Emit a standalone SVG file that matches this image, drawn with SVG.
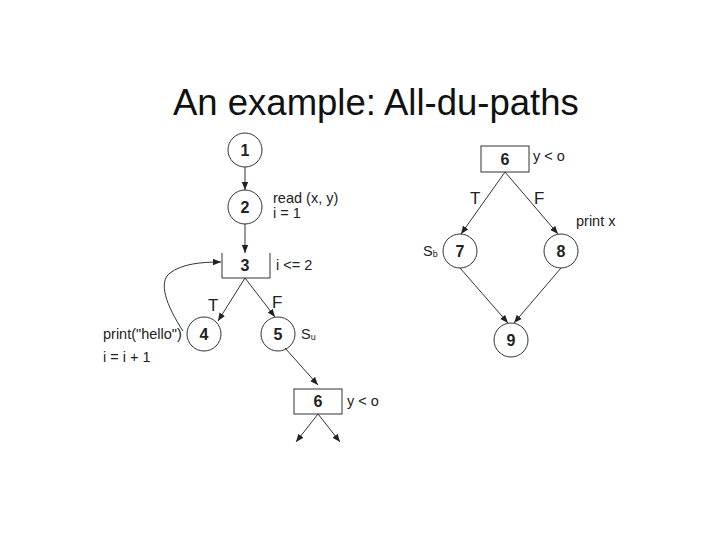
<svg xmlns="http://www.w3.org/2000/svg" width="720" height="540" viewBox="0 0 720 540">
<defs>
<marker id="ah" viewBox="0 0 10 8" refX="10" refY="4" markerWidth="8" markerHeight="7" markerUnits="userSpaceOnUse" orient="auto">
<path d="M0,0 L10,4 L0,8 z" fill="#222"/>
</marker>
<style>
.nd{fill:none;stroke:#333;stroke-width:1}
.num{font-family:"Liberation Sans",Arial,sans-serif;font-size:16px;font-weight:bold;fill:#222;text-anchor:middle}
.lb{font-family:"Liberation Sans",Arial,sans-serif;font-size:14.5px;fill:#222}
.tf{font-family:"Liberation Sans",Arial,sans-serif;font-size:17px;fill:#222}
.ed{fill:none;stroke:#333;stroke-width:1;marker-end:url(#ah)}
</style>
</defs>
<rect width="720" height="540" fill="#fff"/>
<text x="173" y="115" font-family="'Liberation Sans',Arial,sans-serif" font-size="36.5" fill="#111">An example: All-du-paths</text>

<g id="connectors">
<line class="ed" x1="245" y1="167" x2="245" y2="190"/>
<line class="ed" x1="245" y1="224" x2="245" y2="253"/>
<line class="ed" x1="245" y1="278" x2="218" y2="321"/>
<line class="ed" x1="245" y1="278" x2="275" y2="317"/>
<path class="ed" d="M183,331 C166,305 158,282 170,273 C182,264 200,262 221,262"/>
<line class="ed" x1="285" y1="348" x2="318" y2="385"/>
<line class="ed" x1="318" y1="414" x2="296" y2="442"/>
<line class="ed" x1="318" y1="414" x2="340" y2="442"/>
<line class="ed" x1="505" y1="172" x2="461" y2="234"/>
<line class="ed" x1="505" y1="172" x2="558" y2="234"/>
<line class="ed" x1="460" y1="268" x2="508" y2="323"/>
<line class="ed" x1="561" y1="268" x2="514" y2="323"/>
</g>

<g id="n1"><circle class="nd" cx="245" cy="150" r="17"/><text class="num" x="245" y="156">1</text></g>
<g id="n2"><circle class="nd" cx="245" cy="207" r="17"/><text class="num" x="245" y="213">2</text>
<text class="lb" x="273" y="203">read (x, y)</text><text class="lb" x="273" y="218">i = 1</text></g>
<g id="n3"><path class="nd" d="M222,253 V278 H270 V253"/><text class="num" x="245" y="271">3</text>
<text class="lb" x="276" y="270">i &lt;= 2</text></g>
<g id="n4"><circle class="nd" cx="204" cy="334" r="17"/><text class="num" x="204" y="340">4</text>
<text class="lb" x="103" y="339">print("hello")</text><text class="lb" x="103" y="362">i = i + 1</text>
<text class="tf" x="208" y="311">T</text></g>
<g id="n5"><circle class="nd" cx="278" cy="334" r="17"/><text class="num" x="278" y="340">5</text>
<text class="lb" x="301" y="339">S<tspan font-size="9" dy="1">u</tspan></text>
<text class="tf" x="272" y="308">F</text></g>
<g id="n6a"><rect class="nd" x="294" y="389" width="48" height="25"/><text class="num" x="318" y="407">6</text>
<text class="lb" x="347" y="406">y &lt; o</text></g>

<g id="n6b"><rect class="nd" x="481" y="146" width="48" height="26"/><text class="num" x="505" y="165">6</text>
<text class="lb" x="533" y="161">y &lt; o</text>
<text class="tf" x="470" y="204">T</text><text class="tf" x="534" y="204">F</text></g>
<g id="n7"><circle class="nd" cx="460" cy="251" r="17"/><text class="num" x="460" y="257">7</text>
<text class="lb" x="423" y="256">S<tspan font-size="9" dy="1">b</tspan></text></g>
<g id="n8"><circle class="nd" cx="561" cy="251" r="17"/><text class="num" x="561" y="257">8</text>
<text class="lb" x="576" y="226">print x</text></g>
<g id="n9"><circle class="nd" cx="511" cy="340" r="17"/><text class="num" x="511" y="346">9</text></g>
</svg>
